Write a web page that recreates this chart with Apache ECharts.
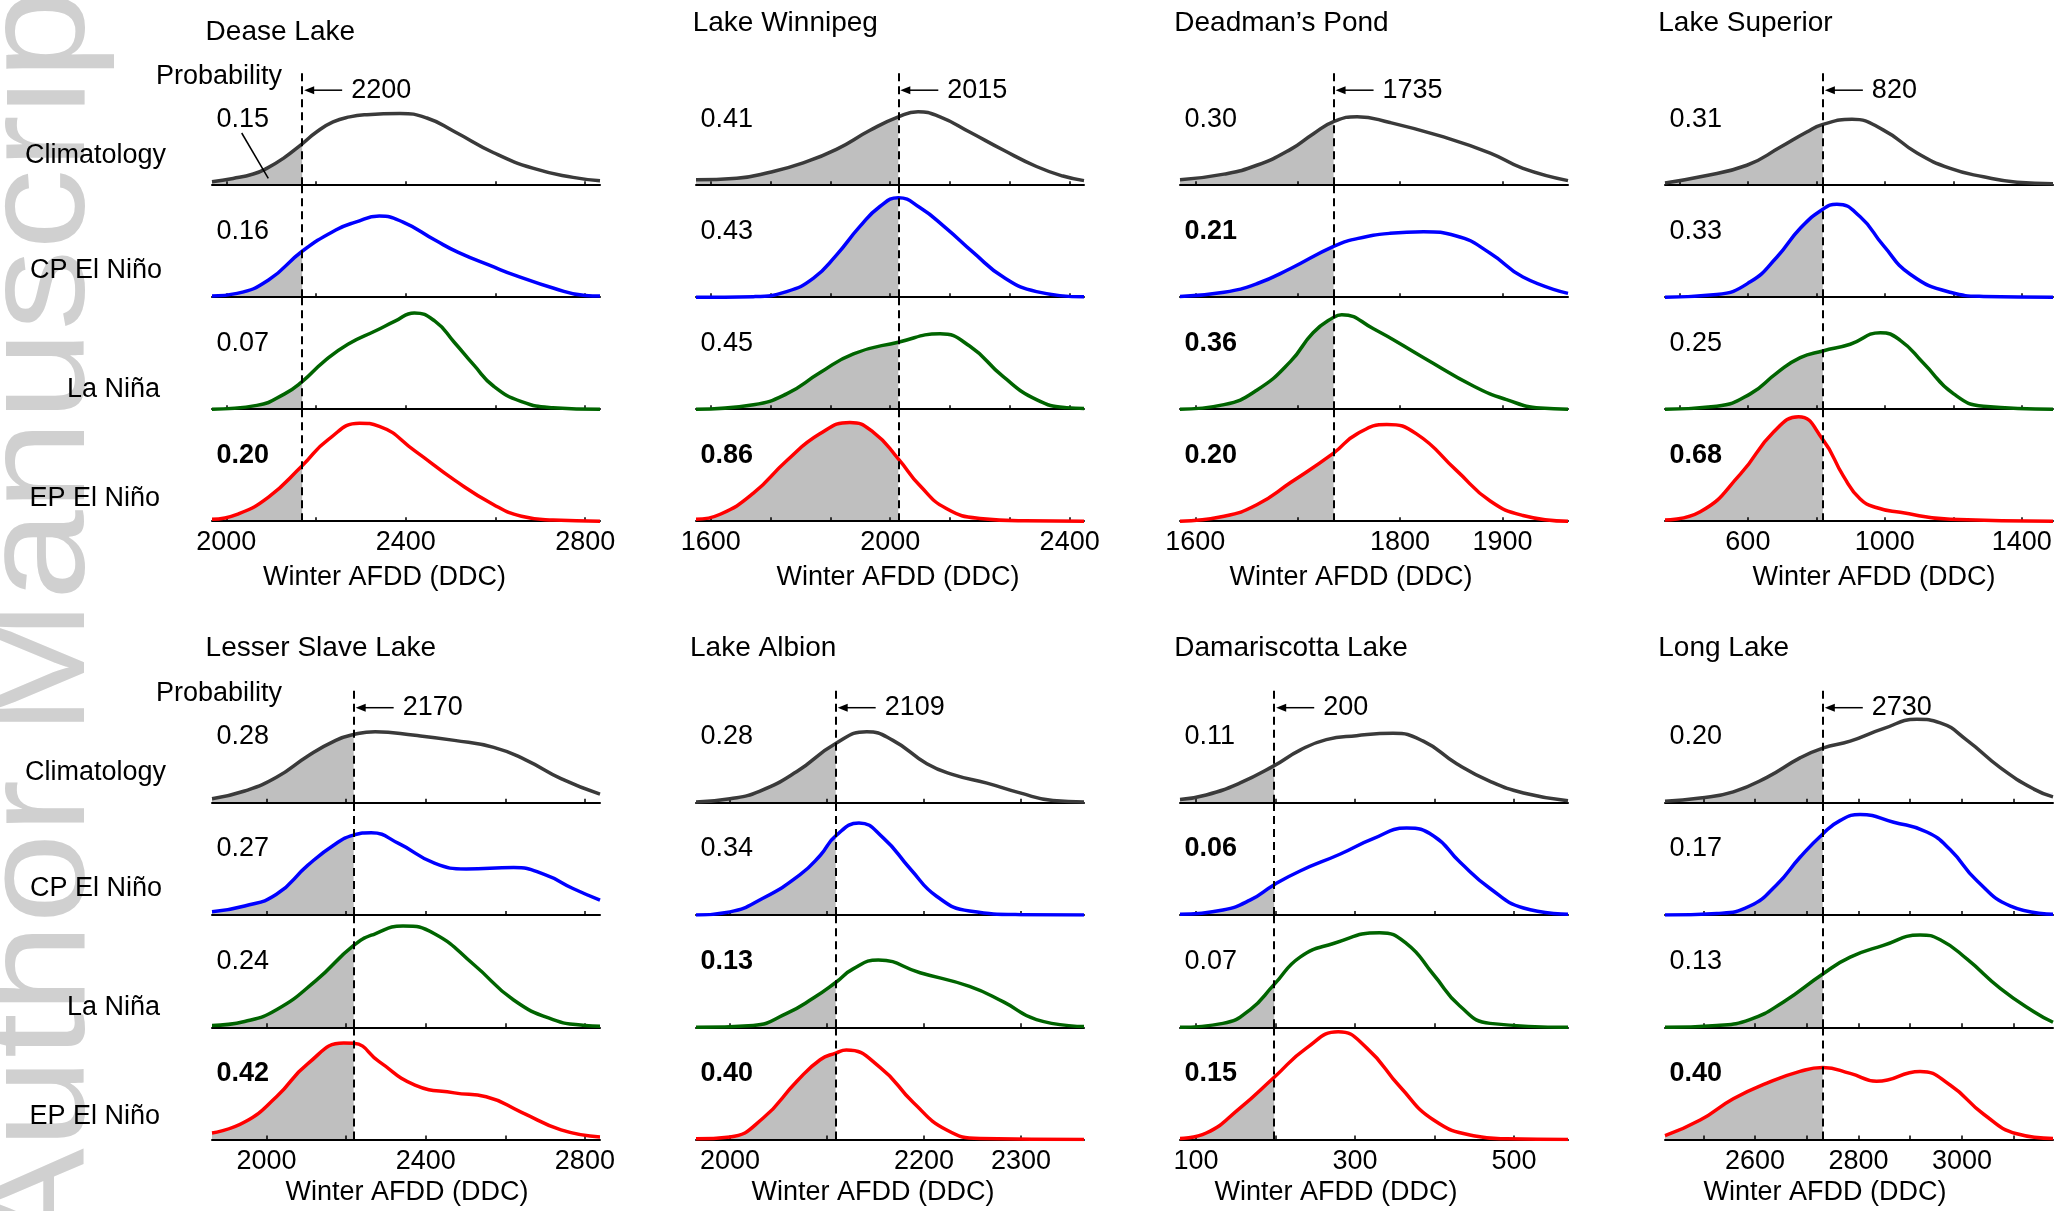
<!DOCTYPE html>
<html><head><meta charset="utf-8">
<script src="https://cdn.jsdelivr.net/npm/echarts@6.0.0/dist/echarts.min.js"></script>
<style>html,body{margin:0;padding:0;background:#fff;} #c{width:2059px;height:1211px;}</style>
</head><body><div id="c"></div>
<script>
// ---------------- DATA ----------------
const lakes = ['Dease Lake','Lake Winnipeg','Deadman\u2019s Pond','Lake Superior',
               'Lesser Slave Lake','Lake Albion','Damariscotta Lake','Long Lake'];
const phases = ['Climatology','CP El Niño','La Niña','EP El Niño'];
const thresholdLabels = ['2200','2015','1735','820','2170','2109','200','2730'];
const thresholds = [2169, 2018, 1735, 819, 2219, 2109, 198.5, 2731];
const axisMin = [1968, 1567, 1585, 358, 1863, 1965, 80, 2426];
const axisMax = [2833, 2432, 1964, 1491, 2838, 2365, 568, 3176];
const tickValues = [
  [2000,2200,2400,2600,2800],
  [1600,1733.3,1866.7,2000,2133.3,2266.7,2400],
  [1600,1700,1800,1900],
  [400,600,800,1000,1200,1400],
  [2000,2200,2400,2600,2800],
  [2000,2100,2200,2300],
  [100,200,300,400,500],
  [2500,2600,2700,2800,2900,3000,3100]
];
const tickLabels = [
  [2000,2400,2800],[1600,2000,2400],[1600,1800,1900],[600,1000,1400],
  [2000,2400,2800],[2000,2200,2300],[100,300,500],[2600,2800,3000]
];
const probabilities = [
  [0.15,0.16,0.07,0.20],[0.41,0.43,0.45,0.86],[0.30,0.21,0.36,0.20],[0.31,0.33,0.25,0.68],
  [0.28,0.27,0.24,0.42],[0.28,0.34,0.13,0.40],[0.11,0.06,0.07,0.15],[0.20,0.17,0.13,0.40]
];
const boldProb = [
  [0,0,0,1],[0,0,0,1],[0,1,1,1],[0,0,0,1],[0,0,0,1],[0,0,1,1],[0,1,0,1],[0,0,0,1]
];
// density curves (relative density, % of row height), one list per lake
const climatology = [
  [[1968,3],[2015,6],[2060,10],[2090,15],[2127,24],[2169,37],[2201,47.5],[2238,56.5],[2275,61],[2313,63],[2387,64],[2447,60],[2508,48],[2596,29],[2685,15],[2773,7],[2833,4]],
  [[1567,4.8],[1658,6.2],[1732,11.6],[1806,20],[1880,32],[1955,49],[2018,61],[2062,65.6],[2111,61],[2177,47.5],[2252,31.4],[2326,16.7],[2385,8.2],[2432,4.1]],
  [[1585,4.8],[1628,9.9],[1660,17.8],[1693,32],[1715,45.8],[1735,56.7],[1758,61.2],[1790,56],[1839,44],[1888,28.7],[1920,15],[1964,4.1]],
  [[358,2],[461,7.5],[597,17.8],[694,33.8],[772,47.5],[819,54.3],[904,58.8],[996,49.2],[1094,28.7],[1191,15],[1288,7.5],[1386,2.7],[1491,1.4]],
  [[1863,3.5],[1945,10.4],[2025,22.6],[2104,41.6],[2174,55.5],[2219,60.7],[2273,63.2],[2373,60],[2472,55.5],[2571,49.3],[2651,38.2],[2740,21.5],[2838,7.6]],
  [[1965,0.7],[2000,3.5],[2031,10.4],[2069,27.8],[2109,52.7],[2141,63.2],[2168,55.5],[2203,34.7],[2230,25],[2265,17.4],[2299,8.7],[2333,2],[2365,0.7]],
  [[80,2.8],[113,6.9],[155,17.4],[198.5,33],[231,46.8],[264,56.2],[302,59.7],[348,61.8],[386,54.8],[428,34.7],[470,19],[512,8.7],[568,1.7]],
  [[2426,1.4],[2494,4.2],[2558,9.7],[2623,22.6],[2687,39.9],[2731,48.6],[2784,54.8],[2848,65.9],[2913,74.3],[2958,71.1],[3010,55.5],[3074,31.2],[3139,12.1],[3176,5.2]]
];
const cpElNino = [
  [[1968,1],[2024,3.4],[2094,15.4],[2169,41],[2244,60],[2288,67],[2341,72.4],[2394,67],[2465,51],[2517,40],[2596,27],[2641,20],[2730,8],[2800,1.5],[2833,1]],
  [[1567,0],[1695,0.5],[1769,5],[1829,17],[1880,37.6],[1932,63],[1977,81],[2018,88.8],[2066,80],[2125,61.5],[2185,40],[2252,18],[2326,5],[2432,0.3]],
  [[1585,0.7],[1628,4.4],[1660,12],[1693,25.6],[1735,45.4],[1758,52.3],[1790,57],[1823,58.4],[1855,54.7],[1888,39.3],[1920,18],[1964,3.4]],
  [[358,0],[509,2.4],[607,13.7],[685,35.9],[753,61.5],[819,78.6],[860,83],[928,71.8],[996,46],[1074,20.5],[1191,4.4],[1288,0.7],[1491,0]],
  [[1863,2.8],[1945,8],[2025,18.4],[2104,44.4],[2174,63.5],[2219,71.1],[2263,73.2],[2333,63.5],[2422,46.2],[2502,41],[2621,42.3],[2701,35.7],[2770,23.6],[2838,13.2]],
  [[1965,0],[2000,2.8],[2034,14.9],[2072,35.7],[2093,53],[2109,70.4],[2133,81.9],[2158,68.7],[2186,41],[2213,16.7],[2247,3.5],[2300,0.3],[2365,0]],
  [[80,0.7],[134,4.5],[168,13.2],[198.5,27],[231,39.2],[281,54.1],[323,68],[365,77.4],[399,70.4],[432,47.2],[470,23.6],[512,6.2],[568,0.7]],
  [[2426,0],[2526,1.4],[2590,8],[2642,27],[2687,51.4],[2731,72.2],[2765,84.3],[2803,89.5],[2868,82.6],[2932,73.9],[2977,58.3],[3029,30.5],[3094,8],[3176,0.7]]
];
const laNina = [
  [[1968,0],[2068,3.4],[2130,13.7],[2169,24.6],[2218,42.7],[2271,58],[2333,70],[2376,78.6],[2419,86],[2465,78.6],[2508,59.8],[2552,39.3],[2596,20.5],[2658,6.8],[2728,1.4],[2833,0]],
  [[1567,0],[1695,4],[1769,13.7],[1843,32.5],[1918,49.5],[2018,59.8],[2111,67.3],[2177,56.4],[2252,29],[2326,8.5],[2393,1.4],[2432,0.7]],
  [[1585,0],[1628,4.1],[1660,17],[1693,42.7],[1715,68.3],[1735,82],[1743,84.4],[1774,71.8],[1823,46],[1872,20.5],[1904,8.5],[1937,1],[1964,0]],
  [[358,0],[509,2.7],[607,13.7],[685,32.5],[753,46],[819,52],[899,58],[987,68.3],[1045,61.5],[1113,41],[1201,13.7],[1288,2.7],[1491,0]],
  [[1863,1.7],[1945,5.2],[2025,15.6],[2124,41.6],[2219,72.9],[2273,83.3],[2343,90.2],[2422,83.3],[2522,55.5],[2621,24.3],[2720,6.9],[2800,1.7],[2838,1]],
  [[1965,0],[2024,1.7],[2058,12.1],[2086,26],[2109,39.9],[2127,52],[2153,60],[2196,48.6],[2247,36.4],[2282,22.6],[2316,6.9],[2365,0.7]],
  [[80,0],[134,3.5],[168,15.6],[198.5,38.2],[231,62.5],[273,74.6],[331,84.3],[365,74.6],[399,46.8],[432,19],[470,3.5],[568,0]],
  [[2426,0],[2526,1.7],[2590,6.9],[2655,22.6],[2731,47.5],[2784,62.5],[2848,72.9],[2919,82.2],[2958,78],[3010,60.7],[3074,34.7],[3139,13.9],[3176,4.5]]
];
const epElNino = [
  [[1968,1.7],[2024,6.2],[2094,21.5],[2169,49.5],[2227,72.8],[2297,87.5],[2341,84.7],[2421,62.5],[2508,36.9],[2596,14.7],[2658,4.4],[2728,1],[2833,0]],
  [[1567,1.7],[1621,6.2],[1695,25],[1769,54],[1843,78],[1910,88.2],[1962,79.6],[2018,55.7],[2066,31.8],[2125,11.3],[2200,2.4],[2300,0.3],[2432,0]],
  [[1585,0],[1628,4.4],[1660,14.7],[1693,34.5],[1735,60.8],[1758,78],[1787,86.4],[1816,78],[1855,45.4],[1888,18],[1920,5.1],[1964,0]],
  [[358,1],[461,8.5],[578,42],[675,79.6],[748,93.3],[819,72.8],[879,40.3],[928,19.8],[977,12],[1045,7.9],[1191,1.7],[1491,0]],
  [[1863,5.9],[1945,15.6],[2025,38.2],[2104,67.7],[2194,86],[2219,85.7],[2283,69.4],[2373,48.6],[2472,41.6],[2552,38.2],[2641,24.3],[2740,8.7],[2838,2.4]],
  [[1965,0.7],[2000,2.4],[2034,19],[2069,52],[2093,71.1],[2109,77],[2120,79.8],[2155,64.2],[2189,33],[2223,8.7],[2258,1],[2365,0]],
  [[80,1],[113,5.9],[155,27.8],[198.5,55.5],[239,81.5],[279,96.1],[315,81.5],[357,46.8],[399,17.4],[449,3.5],[491,0.7],[568,0]],
  [[2426,3.5],[2494,17.4],[2558,36.4],[2623,50.3],[2687,60.7],[2731,64.2],[2784,59],[2835,52],[2919,60.7],[2977,48.6],[3042,22.6],[3106,5.2],[3176,1]]
];
const curves = [climatology, cpElNino, laNina, epElNino];

// ---------------- LAYOUT / STYLE ----------------
const colors = ['#3a3a3a','#0000ff','#006400','#ff0000'];
const panelLeft = [212, 696, 1180, 1665];
const gridW = 388;
const blockTop = [73.2, 690.4];
const rowH = [112, 112.3];
const titlePos = [[205.6,32.5],[692.7,23],[1174.3,23],[1658.3,23],[205.6,648.7],[690,648.7],[1174.3,648.7],[1658.3,648.7]];
const nameX = [384.6, 898, 1351, 1874, 407, 873, 1336, 1825];
const nameDy = [56.4, 52.7];
const rowLabelRight = [166, 162, 160, 160];
const rowLabelDy = [-30, -26.5, -20, -23];
const FONT = '"Liberation Sans", Arial, Helvetica, sans-serif';
const FS = 27;
const SMOOTH = 0.5;

const chart = echarts.init(document.getElementById('c'), null, {renderer:'canvas'});
const option = {animation:false, backgroundColor:'#ffffff', grid:[], xAxis:[], yAxis:[], series:[]};

for (let p = 0; p < 8; p++) {
  const col = p % 4, blk = Math.floor(p / 4);
  const thr = thresholds[p];
  for (let r = 0; r < 4; r++) {
    const g = p * 4 + r;
    const top = blockTop[blk] + r * rowH[blk];
    option.grid.push({left: panelLeft[col], top: top, width: gridW, height: rowH[blk]});
    option.xAxis.push({
      gridIndex: g, type: 'value', min: axisMin[p], max: axisMax[p], z: 2,
      splitLine: {show: false},
      axisLine: {show: true, onZero: false, lineStyle: {color: '#000', width: 2}},
      axisTick: {show: true, inside: true, length: 4, customValues: tickValues[p], lineStyle: {color: '#000', width: 1.5}},
      axisLabel: {show: r === 3, customValues: tickLabels[p], fontSize: FS, fontFamily: FONT, color: '#000', margin: 8,
                  formatter: v => String(Math.round(v))}
    });
    option.yAxis.push({gridIndex: g, type: 'value', min: 0, max: 100, show: false});
    const curve = curves[r][p];
    option.series.push({
      type: 'line', xAxisIndex: g, yAxisIndex: g, silent: true, z: 1,
      data: curve.filter(d => d[0] <= thr + 1e-9),
      smooth: SMOOTH, symbol: 'none',
      lineStyle: {width: 0, opacity: 0},
      areaStyle: {color: '#bfbfbf', opacity: 1}
    });
    option.series.push({
      type: 'line', xAxisIndex: g, yAxisIndex: g, silent: true, z: 3,
      data: curve, smooth: SMOOTH, symbol: 'none',
      lineStyle: {color: colors[r], width: 3.5},
      markLine: {
        silent: true, symbol: ['none','none'], label: {show: false}, animation: false,
        lineStyle: {color: '#000', type: [8,5], width: 2},
        data: [[{coord: [thr, 0]}, {coord: [thr, 100]}]]
      }
    });
  }
}
chart.setOption(option);

// ---------------- TEXT / ANNOTATIONS ----------------
function txt(x, y, text, opts) {
  opts = opts || {};
  const align = opts.align || 'left';
  const el = {
    type: 'text', x: x, y: y, z: opts.z == null ? 10 : opts.z, silent: true, rotation: opts.rotation || 0,
    style: {
      text: text, fill: opts.fill || '#000',
      font: (opts.bold ? 'bold ' : '') + (opts.size || FS) + 'px ' + FONT,
      align: align, textAlign: align, verticalAlign: 'middle', textVerticalAlign: 'middle'
    }
  };
  if (opts.scaleX) el.scaleX = opts.scaleX;
  return el;
}
const els = [];
// watermark
els.push(txt(43.5, 1256, 'Author Manuscript', {size: 146, fill: '#d0d0d0', rotation: Math.PI / 2, z: 0, scaleX: 1.107}));

for (let p = 0; p < 8; p++) {
  const col = p % 4, blk = Math.floor(p / 4);
  const base = r => blockTop[blk] + (r + 1) * rowH[blk];
  els.push(txt(titlePos[p][0], titlePos[p][1], lakes[p], {size: 28}));
  for (let r = 0; r < 4; r++) {
    els.push(txt(panelLeft[col] + 4.5, base(r) - 66, probabilities[p][r].toFixed(2), {bold: !!boldProb[p][r]}));
    if (col === 0) {
      els.push(txt(rowLabelRight[r], base(r) + rowLabelDy[r], phases[r], {align: 'right'}));
    }
  }
  if (col === 0) els.push(txt(156, base(0) - 109, 'Probability'));
  els.push(txt(nameX[p], base(3) + nameDy[blk], 'Winter AFDD (DDC)', {align: 'center'}));
  // threshold arrow + label
  const tx = chart.convertToPixel({xAxisIndex: p * 4}, thresholds[p]);
  const ay = base(0) - 95;
  els.push({type: 'line', z: 10, silent: true, shape: {x1: tx + 9, y1: ay, x2: tx + 40, y2: ay}, style: {stroke: '#000', lineWidth: 1.5}});
  els.push({type: 'polygon', z: 10, silent: true, shape: {points: [[tx + 2, ay], [tx + 12, ay - 4], [tx + 12, ay + 4]]}, style: {fill: '#000'}});
  els.push(txt(tx + 49, ay, thresholdLabels[p]));
}
// pointer from first probability to the shaded area
els.push({type: 'line', z: 10, silent: true, shape: {x1: 241.7, y1: 133, x2: 268.3, y2: 178.3}, style: {stroke: '#000', lineWidth: 1.5}});

chart.setOption({graphic: {elements: els}});
</script></body></html>
